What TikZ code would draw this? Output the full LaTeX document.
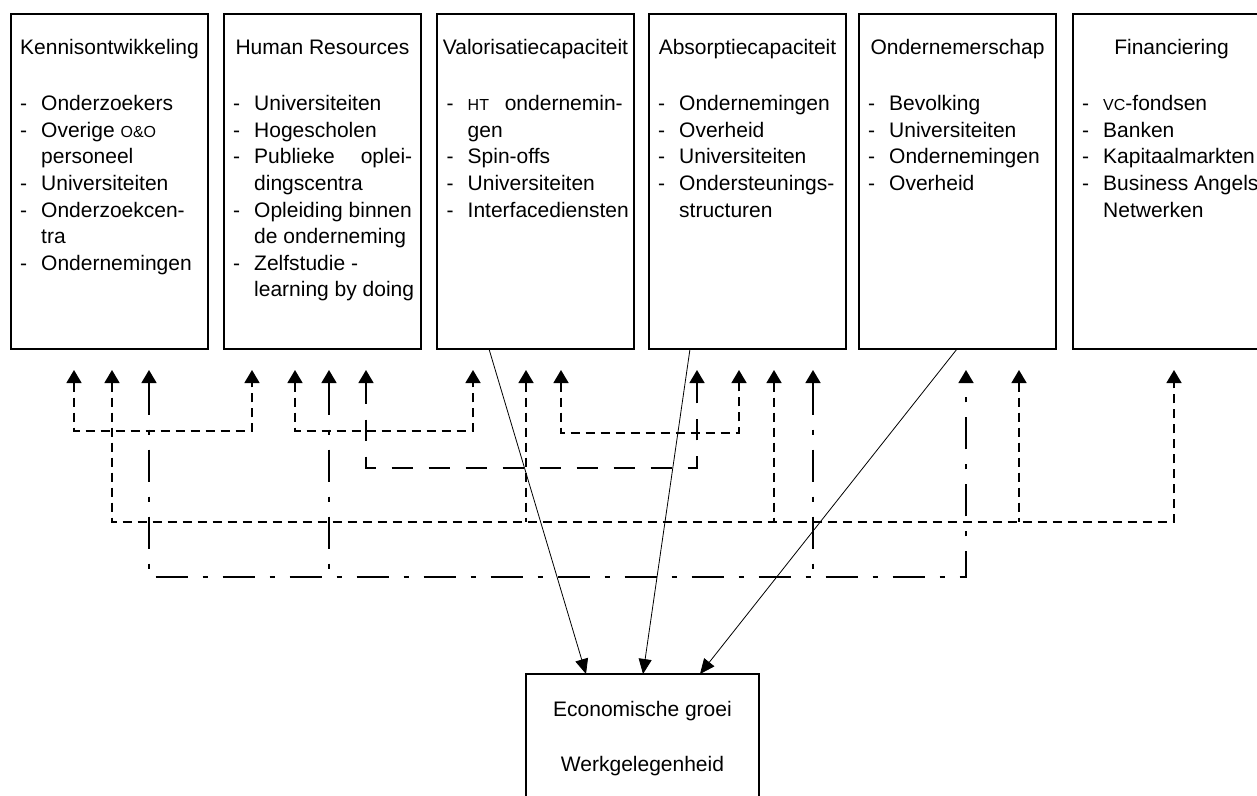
\documentclass[tikz,border=0pt]{standalone}
\usepackage{fontspec}
\setmainfont{Liberation Sans}
\usetikzlibrary{arrows.meta}
\newcommand\fsz{\fontsize{21bp}{26.6bp}\selectfont}
\newcommand\smc[1]{{\fontsize{16bp}{16bp}\selectfont #1}}
\newcommand\D{\makebox[21bp][l]{-}}
\newcommand\I{\hspace*{21bp}}
\begin{document}
\begin{tikzpicture}[x=1bp,y=-1bp,
  box/.style={draw, line width=1.5bp, anchor=north west, minimum width=197bp,
    minimum height=335bp, inner sep=0pt, outer sep=0pt},
  ttl/.style={anchor=base, inner sep=0pt, font=\fsz},
  itm/.style={anchor=base west, inner sep=0pt, font=\fsz},
  arr1/.style={{Triangle[width=15bp,length=13bp]}-},
  arr2/.style={{Triangle[width=15bp,length=13bp]}-{Triangle[width=15bp,length=13bp]}},
  dsh/.style={line width=1.5bp, dash pattern=on 9bp off 6bp},
  ldsh/.style={line width=1.5bp, dash pattern=on 21bp off 16bp},
  ddot/.style={line width=1.5bp, dash pattern=on 32bp off 15bp on 5bp off 15bp},
  diag/.style={line width=0.8bp, -{Triangle[width=13bp,length=15bp]}}]
\useasboundingbox (0,0) rectangle (1257,796);
\clip (0,0) rectangle (1257,796);
\fill[white] (0,0) rectangle (1257,796);

% boxes
\node[box] (b1) at (11,14) {};
\node[box] (b2) at (224,14) {};
\node[box] (b3) at (437,14) {};
\node[box] (b4) at (649,14) {};
\node[box] (b5) at (859,14) {};
\node[box] (b6) at (1073,14) {};
\node[box, minimum width=233bp, minimum height=150bp] (eg) at (526,674) {};

% titles
\node[ttl] (t1) at (109.5,55) {Kennisontwikkeling};
\node[ttl] (t2) at (322.5,55) {Human Resources};
\node[ttl] (t3) at (535.5,55) {Valorisatiecapaciteit};
\node[ttl] (t4) at (747.5,55) {Absorptiecapaciteit};
\node[ttl] (t5) at (957.5,55) {Ondernemerschap};
\node[ttl] (t6) at (1171.5,55) {Financiering};

% item lists
\node[itm] (l1) at (20,110.7) {\parbox[t]{200bp}{\raggedright
  \D Onderzoekers\\
  \D Overige \smc{O\&O}\\
  \I personeel\\
  \D Universiteiten\\
  \D Onderzoekcen-\\
  \I tra\\
  \D Ondernemingen}};
\node[itm] (l2) at (233,110.7) {\parbox[t]{200bp}{\raggedright
  \D Universiteiten\\
  \D Hogescholen\\
  \D \makebox[158bp][l]{Publieke\hfill oplei-}\\
  \I dingscentra\\
  \D Opleiding binnen\\
  \I de onderneming\\
  \D Zelfstudie -\\
  \I learning by doing}};
\node[itm] (l3) at (446.5,110.7) {\parbox[t]{200bp}{\raggedright
  \D \makebox[155bp][l]{\smc{HT}\hfill ondernemin-}\\
  \I gen\\
  \D Spin-offs\\
  \D Universiteiten\\
  \D Interfacediensten}};
\node[itm] (l4) at (658,110.7) {\parbox[t]{200bp}{\raggedright
  \D Ondernemingen\\
  \D Overheid\\
  \D Universiteiten\\
  \D Ondersteunings-\\
  \I structuren}};
\node[itm] (l5) at (868,110.7) {\parbox[t]{200bp}{\raggedright
  \D Bevolking\\
  \D Universiteiten\\
  \D Ondernemingen\\
  \D Overheid}};
\node[itm] (l6) at (1082,110.7) {\parbox[t]{200bp}{\raggedright
  \D \smc{VC}-fondsen\\
  \D Banken\\
  \D Kapitaalmarkten\\
  \D Business Angels\\
  \I Netwerken}};

% bottom texts
\node[ttl] (e1) at (642.5,716) {Economische groei};
\node[ttl] (e2) at (642.5,771) {Werkgelegenheid};

% arrow tip coordinates
\coordinate (pA1) at (74,370);  \coordinate (pA2) at (252,370);
\coordinate (pB1) at (295,370); \coordinate (pB2) at (473,370);
\coordinate (pC1) at (561,370); \coordinate (pC2) at (739,370);
\coordinate (pD1) at (366,370); \coordinate (pD2) at (697,370);
\coordinate (pE1) at (112,370); \coordinate (pE2) at (526,370);
\coordinate (pE3) at (774,370); \coordinate (pE4) at (1019,370);
\coordinate (pE5) at (1174,370);
\coordinate (pF1) at (149,370); \coordinate (pF2) at (329,370);
\coordinate (pF3) at (813,370); \coordinate (pF4) at (966,370);

% dashed connectors
\draw[dsh, arr2] (pA1) -- ++(0,61) -| (pA2);
\draw[dsh, arr2] (pB1) -- ++(0,61) -| (pB2);
\draw[dsh, arr2] (pC1) -- ++(0,63) -| (pC2);
\draw[ldsh, arr2] (pD1) -- ++(0,98) -| (pD2);
\draw[dsh, arr2] (pE1) -- ++(0,152) -| (pE5);
\draw[dsh, arr1] (pE2) -- ++(0,152);
\draw[dsh, arr1] (pE3) -- ++(0,152);
\draw[dsh, arr1] (pE4) -- ++(0,152);
\draw[ddot, arr2] (pF1) -- ++(0,207) -| (pF4);
\draw[ddot, arr1] (pF2) -- ++(0,207);
\draw[ddot, arr1] (pF3) -- ++(0,207);

% solid connectors to the bottom box
\draw[diag] ([xshift=52bp]b3.south west) -- ([xshift=60bp]eg.north west);
\draw[diag] ([xshift=41bp]b4.south west) -- ([xshift=117bp]eg.north west);
\draw[diag] ([xshift=98bp]b5.south west) -- ([xshift=174bp]eg.north west);
\end{tikzpicture}
\end{document}
